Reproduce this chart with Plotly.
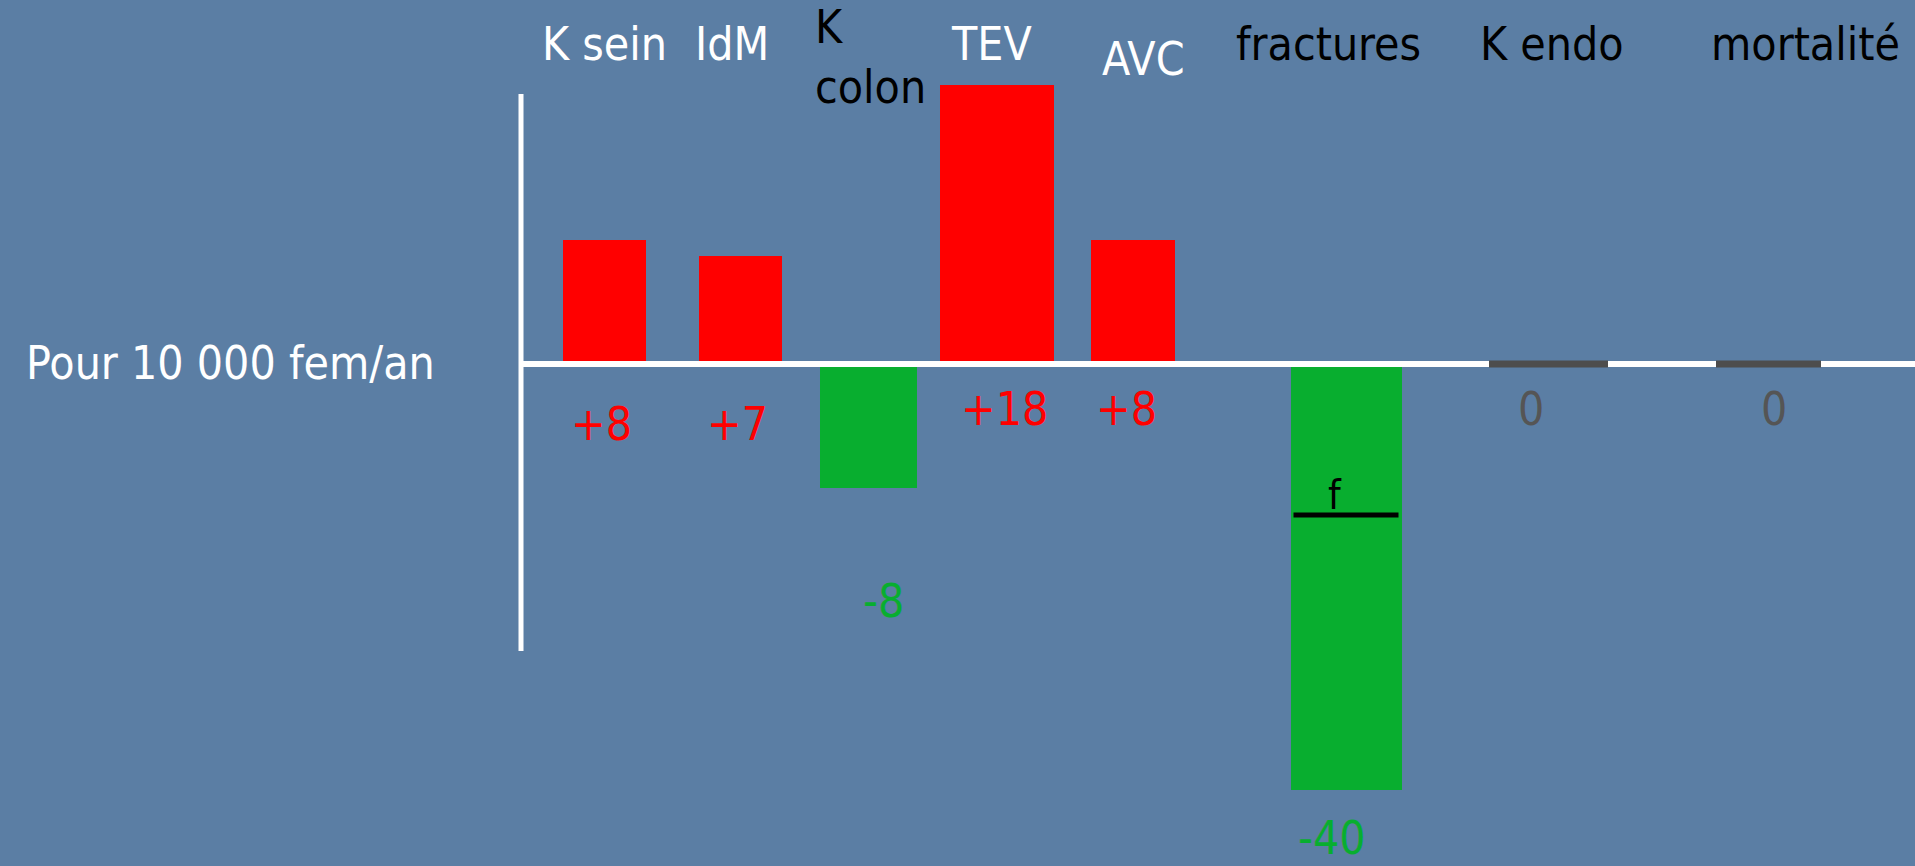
import plotly.graph_objects as go

# ---------------- data ----------------
categories = ["K sein", "IdM", "K<br>colon", "TEV", "AVC", "fractures", "K endo", "mortalité"]
bar_heights = [8, 7, -8, 18, 8, -27.5, 0, 0]          # drawn bar heights (axis units)
value_labels = ["+8", "+7", "-8", "+18", "+8", "-40", "0", "0"]
y_title = "Pour 10 000 fem/an"
fracture_mark = "f"

# ---------------- layout / style constants ----------------
W, H = 1915, 866
PX_PER_UNIT = 15.5
ZERO_PX = 364
y_top = ZERO_PX / PX_PER_UNIT
y_bot = -(H - ZERO_PX) / PX_PER_UNIT

bar_x = [604.5, 740.5, 868.5, 997, 1133, 1346.5, 1548.5, 1768.5]
bar_w = [83, 83, 97, 114, 84, 111, 119, 105]
cat_label_x = [604, 732, 813, 991, 1143, 1328, 1552, 1805]
cat_label_y = [44, 44, 57, 44, 59, 44, 44, 44]
cat_label_anchor = ["center", "center", "left", "center", "center", "center", "center", "center"]
cat_label_color = ["white", "white", "black", "white", "white", "black", "black", "black"]
val_label_x = [601, 737, 883, 1004, 1126, 1332, 1531, 1774]
val_label_y = [424, 424, 601, 409, 409, 838, 409, 409]

RED = "#FF0000"
GREEN = "#08AE2F"
GRAY = "#4D4D4D"
BG = "#5B7EA4"
FONT = "DejaVu Sans Condensed, Liberation Sans, sans-serif"
FS = 46

axis_x = 521
axis_top_px, axis_bot_px = 94, 651


def py2y(py):
    return (ZERO_PX - py) / PX_PER_UNIT


def color_for(v):
    if v > 0:
        return RED
    if v < 0:
        return GREEN
    return GRAY


fig = go.Figure()

fig.add_trace(go.Bar(
    x=bar_x, y=bar_heights, width=bar_w,
    marker=dict(color=[color_for(v) for v in bar_heights], line=dict(width=0)),
    hoverinfo="skip", showlegend=False,
))

# white zero line (drawn above the bars)
fig.add_trace(go.Scatter(
    x=[axis_x, W], y=[0, 0], mode="lines",
    line=dict(color="white", width=6), hoverinfo="skip", showlegend=False,
))

# zero-valued items: dark gray segments on the zero line
zx, zy = [], []
for i, v in enumerate(bar_heights):
    if v == 0:
        zx += [bar_x[i] - bar_w[i] / 2, bar_x[i] + bar_w[i] / 2, None]
        zy += [v, v, None]
fig.add_trace(go.Scatter(
    x=zx, y=zy, mode="lines", line=dict(color=GRAY, width=7),
    hoverinfo="skip", showlegend=False,
))

# vertical axis line
fig.add_shape(type="line", x0=axis_x, x1=axis_x, y0=py2y(axis_top_px), y1=py2y(axis_bot_px),
              xref="x", yref="y", line=dict(color="white", width=5))

# "f" mark in the fractures bar
fi = categories.index("fractures")
fig.add_shape(type="line", x0=bar_x[fi] - 53, x1=bar_x[fi] + 52, y0=py2y(515), y1=py2y(515),
              xref="x", yref="y", line=dict(color="black", width=5))
fig.add_annotation(x=bar_x[fi] - 12, y=py2y(495), xref="x", yref="y", text=fracture_mark,
                   showarrow=False, font=dict(family=FONT, size=40, color="black"),
                   xanchor="center", yanchor="middle")

# category labels
for i, c in enumerate(categories):
    fig.add_annotation(x=cat_label_x[i], y=py2y(cat_label_y[i]), xref="x", yref="y", text=c,
                       showarrow=False, xanchor=cat_label_anchor[i], yanchor="middle",
                       align="left",
                       font=dict(family=FONT, size=FS, color=cat_label_color[i]))

# value labels
for i, t in enumerate(value_labels):
    fig.add_annotation(x=val_label_x[i], y=py2y(val_label_y[i]), xref="x", yref="y", text=t,
                       showarrow=False, xanchor="center", yanchor="middle",
                       font=dict(family=FONT, size=FS, color=color_for(bar_heights[i]) if bar_heights[i] != 0 else "#555555"))

# y title
fig.add_annotation(x=230, y=py2y(363), xref="x", yref="y", text=y_title, showarrow=False,
                   xanchor="center", yanchor="middle",
                   font=dict(family=FONT, size=FS, color="white"))

fig.update_layout(
    width=W, height=H,
    margin=dict(l=0, r=0, t=0, b=0),
    paper_bgcolor=BG, plot_bgcolor=BG,
    xaxis=dict(range=[0, W], visible=False, fixedrange=True),
    yaxis=dict(range=[y_bot, y_top], visible=False, fixedrange=True),
    bargap=0, showlegend=False,
)

fig.write_html("out.html", config={"displayModeBar": False},
               post_script="document.body.style.margin='0';document.body.style.overflow='hidden';")
